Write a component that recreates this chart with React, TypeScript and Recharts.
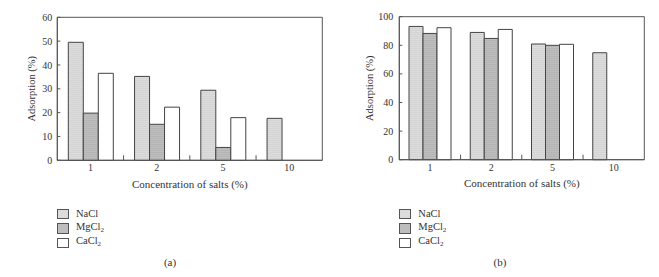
import React from 'react';
import { BarChart, Bar, XAxis, YAxis, Legend, ReferenceArea } from 'recharts';

const categories = ['1', '2', '5', '10'];
const naclA = [49.5, 35.2, 29.4, 17.6];
const mgcl2A = [19.8, 15.1, 5.4, null];
const cacl2A = [36.5, 22.3, 17.9, null];
const naclB = [93.2, 89.0, 80.9, 74.8];
const mgcl2B = [88.3, 84.8, 80.0, null];
const cacl2B = [92.3, 91.1, 80.7, null];
const yTicksA = [0, 10, 20, 30, 40, 50, 60];
const yTicksB = [0, 20, 40, 60, 80, 100];
const seriesNames = ['NaCl', 'MgCl', 'CaCl'];
const seriesSubs = ['', '2', '2'];
const xTitle = 'Concentration of salts (%)';
const yTitle = 'Adsorption (%)';

const FONT = '"Liberation Serif", "DejaVu Serif", serif';
const AXIS = '#555';
const TEXT = '#333';
const FILLS = ['url(#patNa)', 'url(#patMg)', '#ffffff'];
const LEGEND_FILLS = ['#dcdcdc', '#bdbdbd', '#ffffff'];
const X_TICK_MARGIN = 4;

type Geo = {
  yWidth: number;
  top: number;
  right: number;
  bottom: number;
  gap: number;
  labelDx: number;
  tickGap: number;
  legendLeft: number;
};

function buildRows(a: (number | null)[], b: (number | null)[], c: (number | null)[]) {
  return categories.map((cat, i) => ({ cat, nacl: a[i], mgcl2: b[i], cacl2: c[i] }));
}

const LegendBox = () => (
  <div style={{ fontFamily: FONT, fontSize: 10.5, color: TEXT, lineHeight: '14.5px' }}>
    {seriesNames.map((n, i) => (
      <div key={n} style={{ display: 'flex', alignItems: 'center', height: 14.5 }}>
        <span
          style={{
            display: 'inline-block',
            width: 10,
            height: 8.5,
            border: '1px solid #555',
            background: LEGEND_FILLS[i],
            marginRight: 7,
          }}
        />
        <span>
          {n}
          {seriesSubs[i] ? <sub style={{ fontSize: 7, verticalAlign: '-2px' }}>{seriesSubs[i]}</sub> : null}
        </span>
      </div>
    ))}
  </div>
);

function makeXTick(halfBand: number) {
  return (props: any) => {
    const { x, y, payload, index } = props;
    const hb = payload && typeof payload.offset === 'number' && payload.offset > 0 ? payload.offset : halfBand;
    const axisY = y - X_TICK_MARGIN;
    return (
      <g>
        {index > 0 ? (
          <line x1={x - hb} x2={x - hb} y1={axisY} y2={axisY - 5} stroke={AXIS} strokeWidth={1} />
        ) : null}
        <text x={x} y={y} dy="0.71em" textAnchor="middle" fontSize={10} fill={TEXT}>
          {payload.value}
        </text>
      </g>
    );
  };
}

function Panel({ rows, yMax, yTicks, width, geo }: { rows: any[]; yMax: number; yTicks: number[]; width: number; geo: Geo }) {
  const plotW = width - geo.yWidth - geo.right;
  const halfBand = plotW / categories.length / 2;
  return (
    <BarChart
      width={width}
      height={277}
      data={rows}
      margin={{ top: geo.top, right: geo.right, bottom: geo.bottom, left: 0 }}
      barGap={0}
      barCategoryGap={geo.gap}
    >
      <XAxis
        dataKey="cat"
        height={30}
        tickLine={false}
        tickSize={0}
        tickMargin={X_TICK_MARGIN}
        axisLine={{ stroke: AXIS }}
        tick={makeXTick(halfBand)}
        interval={0}
        label={{ value: xTitle, position: 'insideBottom', offset: 2.3, fontSize: 11, fill: TEXT }}
      />
      <YAxis
        domain={[0, yMax]}
        ticks={yTicks}
        width={geo.yWidth}
        tickLine={{ stroke: AXIS }}
        tickSize={-3}
        tickMargin={geo.tickGap + 3}
        axisLine={{ stroke: AXIS }}
        tick={{ fontSize: 10, fill: TEXT }}
        label={{ value: yTitle, angle: -90, position: 'center', dx: geo.labelDx, fontSize: 10.5, fill: TEXT }}
      />
      <ReferenceArea y1={0} y2={yMax} fill="none" fillOpacity={0} stroke={AXIS} strokeWidth={1} ifOverflow="visible" />
      <Legend
        layout="vertical"
        align="center"
        verticalAlign="middle"
        wrapperStyle={{ left: geo.legendLeft, top: 206.5, width: 100 }}
        content={() => <LegendBox />}
      />
      <Bar dataKey="nacl" name="NaCl" fill={FILLS[0]} stroke="#444" strokeWidth={1} isAnimationActive={false} />
      <Bar dataKey="mgcl2" name="MgCl2" fill={FILLS[1]} stroke="#444" strokeWidth={1} isAnimationActive={false} />
      <Bar dataKey="cacl2" name="CaCl2" fill={FILLS[2]} stroke="#444" strokeWidth={1} isAnimationActive={false} />
    </BarChart>
  );
}

export default function App() {
  const rowsA = buildRows(naclA, mgcl2A, cacl2A);
  const rowsB = buildRows(naclB, mgcl2B, cacl2B);
  const geoA: Geo = { yWidth: 57.3, top: 17.3, right: 7.7, bottom: 86.7, gap: 11, labelDx: 3, tickGap: 5, legendLeft: 57 };
  const geoB: Geo = { yWidth: 69.3, top: 16.7, right: 14.7, bottom: 87.3, gap: 9.7, labelDx: 4.3, tickGap: 6, legendLeft: 69.3 };
  return (
    <div style={{ position: 'absolute', left: 0, top: 0, width: 659, height: 277, background: '#fff', fontFamily: FONT, overflow: 'hidden' }}>
      <svg width={0} height={0} style={{ position: 'absolute' }}>
        <defs>
          <pattern id="patNa" patternUnits="userSpaceOnUse" width={4} height={2}>
            <rect width={4} height={2} fill="#dcdcdc" />
            <rect width={4} height={1} fill="#d4d4d4" />
          </pattern>
          <pattern id="patMg" patternUnits="userSpaceOnUse" width={4} height={2}>
            <rect width={4} height={2} fill="#bebebe" />
            <rect width={4} height={1} fill="#b4b4b4" />
          </pattern>
        </defs>
      </svg>
      <div style={{ position: 'absolute', left: 0, top: 0 }}>
        <Panel rows={rowsA} yMax={60} yTicks={yTicksA} width={330} geo={geoA} />
      </div>
      <div style={{ position: 'absolute', left: 330, top: 0 }}>
        <Panel rows={rowsB} yMax={100} yTicks={yTicksB} width={329} geo={geoB} />
      </div>
      <div style={{ position: 'absolute', left: 150, width: 40, top: 256, textAlign: 'center', fontSize: 11, color: TEXT }}>(a)</div>
      <div style={{ position: 'absolute', left: 480, width: 40, top: 256, textAlign: 'center', fontSize: 11, color: TEXT }}>(b)</div>
    </div>
  );
}
